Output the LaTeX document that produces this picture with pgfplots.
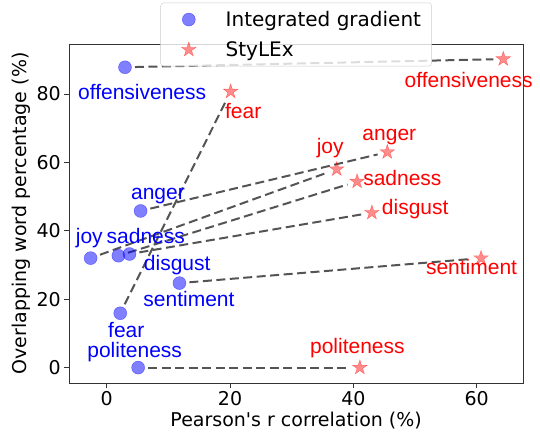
\documentclass[border=0pt]{standalone}
\usepackage{fontspec}
\setmainfont{DejaVu Sans}[Ligatures=TeXOff]
\newfontfamily\annot{Liberation Sans}
\usepackage{pgfplots}
\pgfplotsset{compat=1.18}

\pgfdeclareplotmark{fstar}{%
  \pgfpathmoveto{\pgfpointpolar{90}{\pgfplotmarksize}}%
  \pgfpathlineto{\pgfpointpolar{126}{0.382*\pgfplotmarksize}}%
  \pgfpathlineto{\pgfpointpolar{162}{\pgfplotmarksize}}%
  \pgfpathlineto{\pgfpointpolar{198}{0.382*\pgfplotmarksize}}%
  \pgfpathlineto{\pgfpointpolar{234}{\pgfplotmarksize}}%
  \pgfpathlineto{\pgfpointpolar{270}{0.382*\pgfplotmarksize}}%
  \pgfpathlineto{\pgfpointpolar{306}{\pgfplotmarksize}}%
  \pgfpathlineto{\pgfpointpolar{342}{0.382*\pgfplotmarksize}}%
  \pgfpathlineto{\pgfpointpolar{18}{\pgfplotmarksize}}%
  \pgfpathlineto{\pgfpointpolar{54}{0.382*\pgfplotmarksize}}%
  \pgfpathclose
  \pgfusepathqfillstroke
}

\tikzset{
  lbl/.style={anchor=base, inner sep=0pt, font=\annot\fontsize{21}{21}\selectfont},
  lb/.style={lbl, text=blue},
  lr/.style={lbl, text=red},
}
\pgfplotsset{
  conn/.style={black!67, line width=2pt, dash pattern=on 9pt off 4.5pt, shorten <=10pt, shorten >=10pt, forget plot, mark=none},
  mklegend/.style={legend image code/.code={\path (0pt,0pt) (54pt,0pt); \draw[##1] plot coordinates {(24pt,0pt)};}},
}

\begin{document}
\begin{tikzpicture}
\begin{axis}[
  scale only axis, width=453.7pt, height=339pt,
  xmin=-6.06, xmax=67.5, ymin=-4.5, ymax=94.6,
  xtick={0,20,40,60}, ytick={0,20,40,60,80},
  tick align=outside, xtick pos=bottom, ytick pos=left,
  major tick length=5pt,
  every tick/.style={black!80, line width=0.8pt},
  axis line style={black!80, line width=0.8pt},
  /pgf/number format/assume math mode=true,
  tick label style={font=\fontsize{19}{19}\selectfont},
  xlabel={Pearson's r correlation (\%)},
  ylabel={Overlapping word percentage (\%)},
  label style={font=\fontsize{19}{19}\selectfont},
  x label style={at={(axis description cs:0.5,0)}, anchor=north, yshift=-29pt, inner sep=0pt},
  y label style={at={([xshift=-48pt]axis description cs:0,0.5)}, anchor=center, inner sep=0pt},
  clip=false,
  legend cell align=left,
  legend style={at={(axis description cs:0.5,1)}, anchor=north, yshift=41.3pt,
    draw=black!20, rounded corners=3pt, fill=white, fill opacity=0.8, text opacity=1, draw opacity=1,
    font=\fontsize{20}{24}\selectfont, inner xsep=4pt, inner ysep=1.5pt,
    nodes={inner xsep=6.67pt, inner ysep=6.8pt}},
]
% connectors
\addplot[conn] coordinates {(2.97,87.8) (64.3,90.2)};
\addplot[conn] coordinates {(2.2,15.9) (20.1,80.7)};
\addplot[conn] coordinates {(5.5,45.8) (45.5,63.0)};
\addplot[conn] coordinates {(-2.6,32.0) (37.3,58.0)};
\addplot[conn] coordinates {(1.9,32.7) (40.6,54.4)};
\addplot[conn] coordinates {(3.7,33.2) (43.0,45.3)};
\addplot[conn] coordinates {(11.8,24.7) (60.7,32.0)};
\addplot[conn] coordinates {(5.1,0.0) (41.05,0.0)};

\addplot[only marks, mark=*, mark size=6.5pt, draw=blue, fill=blue, fill opacity=0.5, draw opacity=0.5, mklegend]
coordinates {
(2.97,87.8) (5.5,45.8) (-2.6,32.0) (1.9,32.7) (3.7,33.2) (11.8,24.7) (2.2,15.9) (5.1,0.0)
};
\addlegendentry{Integrated gradient}

\addplot[only marks, mark=fstar, mark size=7.7pt, draw=red, fill=red, fill opacity=0.45, draw opacity=0.45, mklegend]
coordinates {
(64.3,90.2) (20.1,80.7) (45.5,63.0) (37.3,58.0) (40.6,54.4) (43.0,45.3) (60.7,32.0) (41.05,0.0)
};
\addlegendentry{StyLEx}

% labels
\node[lb] at (axis cs:5.75,78.3) {offensiveness};
\node[lb] at (axis cs:8.31,49.0) {anger};
\node[lb] at (axis cs:-2.82,36.4) {joy};
\node[lb] at (axis cs:6.34,36.4) {sadness};
\node[lb] at (axis cs:11.44,28.4) {disgust};
\node[lb] at (axis cs:13.34,17.8) {sentiment};
\node[lb] at (axis cs:3.18,8.7) {fear};
\node[lb] at (axis cs:4.54,2.9) {politeness};

\node[lr] at (axis cs:58.69,81.8) {offensiveness};
\node[lr] at (axis cs:22.14,72.7) {fear};
\node[lr] at (axis cs:45.83,66.4) {anger};
\node[lr] at (axis cs:36.24,62.5) {joy};
\node[lr] at (axis cs:47.94,53.2) {sadness};
\node[lr] at (axis cs:50.02,44.9) {disgust};
\node[lr] at (axis cs:59.16,27.1) {sentiment};
\node[lr] at (axis cs:40.65,4.0) {politeness};
\end{axis}
\pgfresetboundingbox
\path (-69.3pt,-53pt) rectangle (470.7pt,383pt);
\end{tikzpicture}
\end{document}
